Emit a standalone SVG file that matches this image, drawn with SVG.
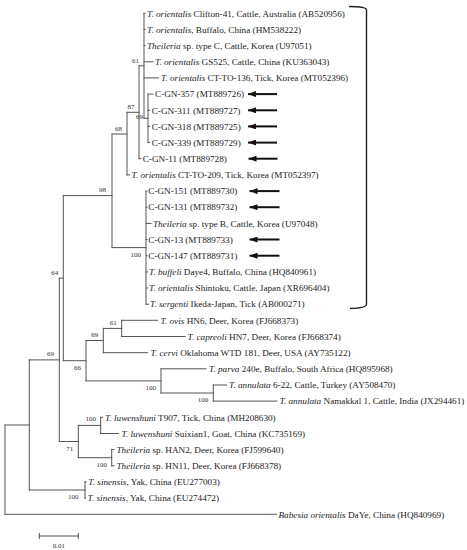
<svg xmlns="http://www.w3.org/2000/svg" width="467" height="550" viewBox="0 0 467 550">
<style>
.br{stroke:#555;stroke-width:1;fill:none;stroke-linecap:square}
.lf{font-family:"Liberation Serif","Times New Roman",serif;font-size:9.2px;fill:#222}
.sp{font-family:"Liberation Serif","Times New Roman",serif;font-size:7px;fill:#333;text-anchor:end}
.it{font-style:italic}
.ar{stroke:#111;stroke-width:2;fill:none;marker-end:url(#ah)}
.bk{stroke:#222;stroke-width:1.4;fill:none}
</style>
<defs>
<marker id="ah" viewBox="0 0 8 6" refX="8" refY="3" markerWidth="8" markerHeight="6" markerUnits="userSpaceOnUse" orient="auto">
<path d="M0,0 L8,3 L0,6 z" fill="#111"/>
</marker>
</defs>
<rect width="467" height="550" fill="#fff"/>
<g id="connectors">
<path class="br" d="M144,13.3V118.3 M148,94.1V142.6 M139,65.8V158.7 M127,112.3V174.9 M146,191.1V304.2 M112,134V247.6 M63.3,195.6V360.7 M121.7,320.3V336.5 M103.3,328.4V352.7 M213.3,385V401.1 M161,368.8V393 M86,340.5V380.9 M100.7,417.3V433.5 M111.7,449.6V465.8 M78.3,425.4V457.7 M59.3,278.2V441.5 M85,481.9V498.1 M29.3,359.9V490 M5,425V514.3"/>
<path class="br" d="M144,118.3H148 M139,65.8H144 M127,112.3H139 M112,134H127 M112,247.6H146 M63.3,195.6H112 M59.3,278.2H63.3 M63.3,360.7H86 M86,340.5H103.3 M103.3,328.4H121.7 M86,380.9H161 M161,393H213.3 M29.3,359.9H59.3 M59.3,441.5H78.3 M78.3,425.4H100.7 M78.3,457.7H111.7 M5,425H29.3 M29.3,490H85"/>
<path class="br" d="M144,13.3H145 M144,29.5H145 M144,45.6H145 M144,61.8H153 M144,77.9H158.5 M148,94.1H153 M148,110.3H149.5 M148,126.4H149.5 M148,142.6H149.5 M139,158.7H141 M127,174.9H129.5 M146,191.1H147 M146,207.2H147 M146,223.4H151 M146,239.5H147 M146,255.7H147 M146,271.9H147.5 M146,288H147.5 M146,304.2H148.5 M121.7,320.3H157.5 M121.7,336.5H185 M103.3,352.7H147.5 M161,368.8H206 M213.3,385H226.5 M213.3,401.1H277 M100.7,417.3H102.5 M100.7,433.5H118.5 M111.7,449.6H114 M111.7,465.8H114 M85,481.9H86 M85,498.1H85.5 M5,514.3H276.5"/>
<path class="ar" d="M277,94.1H248"/>
<path class="ar" d="M277,110.3H248"/>
<path class="ar" d="M277,126.4H248"/>
<path class="ar" d="M277,142.6H248"/>
<path class="ar" d="M277.5,158.7H248.5"/>
<path class="ar" d="M279.5,191.1H249.5"/>
<path class="ar" d="M279.5,207.2H249.5"/>
<path class="ar" d="M279.5,239.5H249.5"/>
<path class="ar" d="M279.5,255.7H249.5"/>
<path class="bk" d="M349,6.5 Q366.5,6.5 366.5,10 V304.5 Q366.5,308 350,308.5"/>
<path class="br" d="M39.3,536H78.3 M39.3,533.5V538.5 M78.3,533.5V538.5"/>
</g>
<g id="leaf-01"><text class="lf" x="147" y="16.5"><tspan class="it">T. orientalis</tspan> Clifton-41, Cattle, Australia (AB520956)</text></g>
<g id="leaf-02"><text class="lf" x="147" y="32.7"><tspan class="it">T. orientalis</tspan>, Buffalo, China (HM538222)</text></g>
<g id="leaf-03"><text class="lf" x="147" y="48.8"><tspan class="it">Theileria</tspan> sp. type C, Cattle, Korea (U97051)</text></g>
<g id="leaf-04"><text class="lf" x="155" y="65"><tspan class="it">T. orientalis</tspan> GS525, Cattle, China (KU363043)</text></g>
<g id="leaf-05"><text class="lf" x="161" y="81.1"><tspan class="it">T. orientalis</tspan> CT-TO-136, Tick, Korea (MT052396)</text></g>
<g id="leaf-06"><text class="lf" x="155" y="97.3">C-GN-357 (MT889726)</text></g>
<g id="leaf-07"><text class="lf" x="151.7" y="113.5">C-GN-311 (MT889727)</text></g>
<g id="leaf-08"><text class="lf" x="151.7" y="129.6">C-GN-318 (MT889725)</text></g>
<g id="leaf-09"><text class="lf" x="151.7" y="145.8">C-GN-339 (MT889729)</text></g>
<g id="leaf-10"><text class="lf" x="142.7" y="161.9">C-GN-11 (MT889728)</text></g>
<g id="leaf-11"><text class="lf" x="131.5" y="178.1"><tspan class="it">T. orientalis</tspan> CT-TO-209, Tick, Korea (MT052397)</text></g>
<g id="leaf-12"><text class="lf" x="148.3" y="194.3">C-GN-151 (MT889730)</text></g>
<g id="leaf-13"><text class="lf" x="148.3" y="210.4">C-GN-131 (MT889732)</text></g>
<g id="leaf-14"><text class="lf" x="153" y="226.6"><tspan class="it">Theileria</tspan> sp. type B, Cattle, Korea (U97048)</text></g>
<g id="leaf-15"><text class="lf" x="148.3" y="242.7">C-GN-13 (MT889733)</text></g>
<g id="leaf-16"><text class="lf" x="148.3" y="258.9">C-GN-147 (MT889731)</text></g>
<g id="leaf-17"><text class="lf" x="149" y="275.1"><tspan class="it">T. buffeli</tspan> Daye4, Buffalo, China (HQ840961)</text></g>
<g id="leaf-18"><text class="lf" x="149" y="291.2"><tspan class="it">T. orientalis</tspan> Shintoku, Cattle, Japan (XR696404)</text></g>
<g id="leaf-19"><text class="lf" x="150" y="307.4"><tspan class="it">T. sergenti</tspan> Ikeda-Japan, Tick (AB000271)</text></g>
<g id="leaf-20"><text class="lf" x="160.5" y="323.5"><tspan class="it">T. ovis</tspan> HN6, Deer, Korea (FJ668373)</text></g>
<g id="leaf-21"><text class="lf" x="187.5" y="339.7"><tspan class="it">T. capreoli</tspan> HN7, Deer, Korea (FJ668374)</text></g>
<g id="leaf-22"><text class="lf" x="150.5" y="355.9"><tspan class="it">T. cervi</tspan> Oklahoma WTD 181, Deer, USA (AY735122)</text></g>
<g id="leaf-23"><text class="lf" x="209" y="372"><tspan class="it">T. parva</tspan> 240e, Buffalo, South Africa (HQ895968)</text></g>
<g id="leaf-24"><text class="lf" x="229" y="388.2"><tspan class="it">T. annulata</tspan> 6-22, Cattle, Turkey (AY508470)</text></g>
<g id="leaf-25"><text class="lf" x="279.5" y="404.3"><tspan class="it">T. annulata</tspan> Namakkal 1, Cattle, India (JX294461)</text></g>
<g id="leaf-26"><text class="lf" x="105" y="420.5"><tspan class="it">T. luwenshuni</tspan> T907, Tick, China (MH208630)</text></g>
<g id="leaf-27"><text class="lf" x="121.5" y="436.7"><tspan class="it">T. luwenshuni</tspan> Suixian1, Goat, China (KC735169)</text></g>
<g id="leaf-28"><text class="lf" x="116.5" y="452.8"><tspan class="it">Theileria</tspan> sp. HAN2, Deer, Korea (FJ599640)</text></g>
<g id="leaf-29"><text class="lf" x="116.5" y="469"><tspan class="it">Theileria</tspan> sp. HN11, Deer, Korea (FJ668378)</text></g>
<g id="leaf-30"><text class="lf" x="88.3" y="485.1"><tspan class="it">T. sinensis</tspan>, Yak, China (EU277003)</text></g>
<g id="leaf-31"><text class="lf" x="87.5" y="501.3"><tspan class="it">T. sinensis</tspan>, Yak, China (EU274472)</text></g>
<g id="leaf-32"><text class="lf" x="278.5" y="517.5"><tspan class="it">Babesia orientalis</tspan> DaYe, China (HQ840969)</text></g>
<g id="node-61a"><text class="sp" x="139" y="62.8">61</text></g>
<g id="node-69a"><text class="sp" x="143" y="119">69</text></g>
<g id="node-87"><text class="sp" x="134.5" y="108.8">87</text></g>
<g id="node-68"><text class="sp" x="122" y="130.5">68</text></g>
<g id="node-98"><text class="sp" x="106" y="192">98</text></g>
<g id="node-100b"><text class="sp" x="141" y="256.6">100</text></g>
<g id="node-64"><text class="sp" x="58.3" y="274.6">64</text></g>
<g id="node-61b"><text class="sp" x="116.7" y="324.9">61</text></g>
<g id="node-69b"><text class="sp" x="98.3" y="337">69</text></g>
<g id="node-66"><text class="sp" x="81" y="369.7">66</text></g>
<g id="node-100p"><text class="sp" x="156" y="389.9">100</text></g>
<g id="node-100a"><text class="sp" x="208.3" y="402">100</text></g>
<g id="node-100l"><text class="sp" x="96" y="420.5">100</text></g>
<g id="node-71"><text class="sp" x="73.3" y="450.5">71</text></g>
<g id="node-100h"><text class="sp" x="107" y="466.7">100</text></g>
<g id="node-100s"><text class="sp" x="78.5" y="499">100</text></g>
<g id="node-69c"><text class="sp" x="54" y="356.4">69</text></g>
<g id="scale"><text class="sp" x="58.8" y="548" style="text-anchor:middle">0.01</text></g>
</svg>
